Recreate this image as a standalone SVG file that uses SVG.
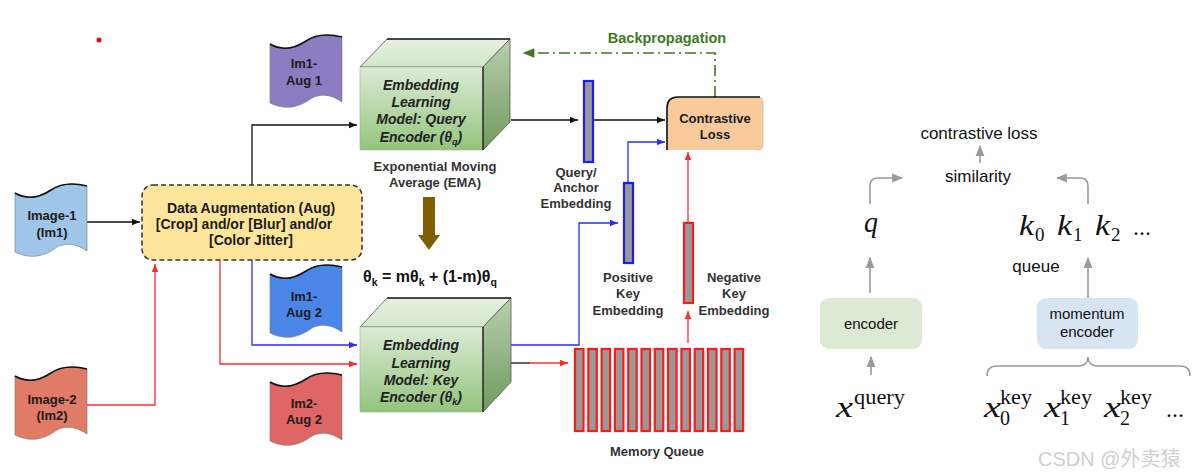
<svg xmlns="http://www.w3.org/2000/svg" xmlns:xlink="http://www.w3.org/1999/xlink" width="1200" height="475" viewBox="0 0 1200 475">
<style>
.b{font-family:"Liberation Sans",Arial,sans-serif;font-weight:bold;text-anchor:middle}
.lbl{font-size:13px;fill:#333}
.doc{font-size:13px;fill:#1a1a1a}
.enc{font-size:14px;font-style:italic;fill:#222}
.r{font-family:"Liberation Sans",Arial,sans-serif;fill:#111;text-anchor:middle}
.m{font-family:"Liberation Serif","Times New Roman",serif;fill:#111}
.mi{font-style:italic}
.blk{fill:none;stroke:#111;stroke-width:1.3}
.blu{fill:none;stroke:#2b2bff;stroke-width:1.3}
.red{fill:none;stroke:#ff2b2b;stroke-width:1.3}
.gry{fill:none;stroke:#9a9a9a;stroke-width:1.6}
.bar{fill:#999;stroke-width:2.2}
</style>
<defs>
<linearGradient id="gFront" x1="0" y1="0" x2="0" y2="1"><stop offset="0" stop-color="#dcebd5"/><stop offset="1" stop-color="#93c47d"/></linearGradient>
<linearGradient id="gSide" x1="0" y1="0" x2="0" y2="1"><stop offset="0" stop-color="#b9cfae"/><stop offset="1" stop-color="#6f9a5e"/></linearGradient>
<linearGradient id="gTop" x1="0" y1="0" x2="0" y2="1"><stop offset="0" stop-color="#e6f1e0"/><stop offset="1" stop-color="#d3e6ca"/></linearGradient>
<path id="docShape" d="M0,9 C12,16 24,14 36,6 C46,-1 60,-1 72,2 L72,67 C62,60 52,58 42,63 C30,72 16,76 0,68 Z"/>
<path id="docTop" d="M0,9 C12,16 24,14 36,6 C46,-1 60,-1 72,2" fill="none" stroke="#111" stroke-width="1.6"/>
<marker id="aBlk" viewBox="0 0 10 10" refX="10" refY="5" markerWidth="9" markerHeight="8" markerUnits="userSpaceOnUse" orient="auto"><path d="M0,1 L10,5 L0,9 z" fill="#111"/></marker>
<marker id="aBlu" viewBox="0 0 10 10" refX="10" refY="5" markerWidth="9" markerHeight="8" markerUnits="userSpaceOnUse" orient="auto"><path d="M0,1 L10,5 L0,9 z" fill="#2b2bff"/></marker>
<marker id="aRed" viewBox="0 0 10 10" refX="10" refY="5" markerWidth="9" markerHeight="8" markerUnits="userSpaceOnUse" orient="auto"><path d="M0,1 L10,5 L0,9 z" fill="#ff2b2b"/></marker>
<marker id="aGrn" viewBox="0 0 10 10" refX="2" refY="5" markerWidth="13" markerHeight="12" markerUnits="userSpaceOnUse" orient="auto"><path d="M0,1 L10,5 L0,9 z" fill="#3d7a22"/></marker>
<marker id="aGry" viewBox="0 0 10 10" refX="9" refY="5" markerWidth="11" markerHeight="11" markerUnits="userSpaceOnUse" orient="auto"><path d="M0,1 L10,5 L0,9 z" fill="#9a9a9a"/></marker>
</defs>
<rect width="1200" height="475" fill="#fff"/>
<circle cx="99" cy="40" r="2.5" fill="#f00"/>

<g id="connectors">
<path class="blk" d="M87,222 L140,222" marker-end="url(#aBlk)"/>
<path class="blk" d="M252,185 L252,125 L357,125" marker-end="url(#aBlk)"/>
<path class="red" d="M87,405 L155,405 L155,264" marker-end="url(#aRed)"/>
<path class="blu" d="M252,260 L252,345 L357,345" marker-end="url(#aBlu)"/>
<path class="red" d="M220,260 L220,364 L357,364" marker-end="url(#aRed)"/>
<path class="blk" d="M511,120 L578,120" marker-end="url(#aBlk)"/>
<path class="blk" d="M593,120 L665,120" marker-end="url(#aBlk)"/>
<path class="blu" d="M511,345 L579,345 L579,223 L618,223" marker-end="url(#aBlu)"/>
<path class="blu" d="M628,182 L628,142 L665,142" marker-end="url(#aBlu)"/>
<path class="blk" d="M511,363 L530,363"/>
<path class="red" d="M530,363 L568,363" marker-end="url(#aRed)"/>
<path class="red" d="M688,343 L688,311" marker-end="url(#aRed)"/>
<path class="red" d="M688,222 L688,152" marker-end="url(#aRed)"/>
<path d="M715,97 L715,53 L532,53" fill="none" stroke="#3d7a22" stroke-width="1.6" stroke-dasharray="11,4,2,4" marker-end="url(#aGrn)"/>
<path d="M423,197 L435,197 L435,235 L440,235 L429,250 L418,235 L423,235 Z" fill="#7f6000"/>
<path class="gry" d="M980,163 L980,146" marker-end="url(#aGry)"/>
<path class="gry" d="M870,204 L870,186 Q870,178 878,178 L902,178" marker-end="url(#aGry)"/>
<path class="gry" d="M1088,204 L1088,186 Q1088,178 1080,178 L1057,178" marker-end="url(#aGry)"/>
<path class="gry" d="M870,293 L870,258" marker-end="url(#aGry)"/>
<path class="gry" d="M1088,298 L1088,258" marker-end="url(#aGry)"/>
<path class="gry" d="M871,375 L871,357" marker-end="url(#aGry)"/>
<path d="M987,376 Q987,366 997,366 L1078,366 Q1088,366 1088,357 Q1088,366 1098,366 L1180,366 Q1190,366 1190,376" fill="none" stroke="#999" stroke-width="1.5"/>
</g>

<g id="im1-aug1">
<use xlink:href="#docShape" x="270" y="35" fill="#8e7cc3" stroke="#777" stroke-width="0.6"/>
<use xlink:href="#docTop" x="270" y="35"/>
<text class="b doc" x="304" y="68">Im1-</text>
<text class="b doc" x="304" y="85">Aug 1</text>
</g>
<g id="image1">
<use xlink:href="#docShape" x="15" y="184" fill="#9fc5e8" stroke="#777" stroke-width="0.6"/>
<use xlink:href="#docTop" x="15" y="184"/>
<text class="b doc" x="52" y="220">Image-1</text>
<text class="b doc" x="52" y="237">(Im1)</text>
</g>
<g id="im1-aug2">
<use xlink:href="#docShape" x="270" y="265" fill="#4a86e8" stroke="#777" stroke-width="0.6"/>
<use xlink:href="#docTop" x="270" y="265"/>
<text class="b doc" x="304" y="301">Im1-</text>
<text class="b doc" x="304" y="317">Aug 2</text>
</g>
<g id="image2">
<use xlink:href="#docShape" x="15" y="367" fill="#e07b67" stroke="#777" stroke-width="0.6"/>
<use xlink:href="#docTop" x="15" y="367"/>
<text class="b doc" x="52" y="404">Image-2</text>
<text class="b doc" x="52" y="420">(Im2)</text>
</g>
<g id="im2-aug2">
<use xlink:href="#docShape" x="270" y="373" fill="#e06666" stroke="#777" stroke-width="0.6"/>
<use xlink:href="#docTop" x="270" y="373"/>
<text class="b doc" x="304" y="408">Im2-</text>
<text class="b doc" x="304" y="424">Aug 2</text>
</g>

<g id="data-augmentation">
<rect x="142" y="185" width="220" height="75" rx="11" fill="#ffe599" stroke="#333" stroke-width="1.5" stroke-dasharray="5,3"/>
<text class="b" font-size="14" fill="#1a1a1a" x="251" y="213">Data Augmentation (Aug)</text>
<text class="b" font-size="14" fill="#1a1a1a" x="244" y="229">[Crop] and/or [Blur] and/or</text>
<text class="b" font-size="14" fill="#1a1a1a" x="251" y="245">[Color Jitter]</text>
</g>

<g id="query-encoder">
<polygon points="360,67 387,39 510,39 483,67" fill="url(#gTop)" stroke="#555" stroke-width="0.8"/>
<polygon points="483,67 510,39 510,122 483,150" fill="url(#gSide)" stroke="#555" stroke-width="0.8"/>
<rect x="360" y="67" width="123" height="83" fill="url(#gFront)" stroke="#9ab58d" stroke-width="0.6"/>
<path d="M387,39 L510,39 M483,67 L483,150" stroke="#222" stroke-width="1.4"/>
<text class="b enc" x="421" y="90">Embedding</text>
<text class="b enc" x="421" y="107">Learning</text>
<text class="b enc" x="421" y="124">Model: Query</text>
<text class="b enc" x="421" y="142">Encoder (θ<tspan font-size="9" dy="3">q</tspan><tspan dy="-3">)</tspan></text>
</g>
<g id="ema-label">
<text class="b lbl" x="435" y="171">Exponential Moving</text>
<text class="b lbl" x="435" y="187">Average (EMA)</text>
</g>
<g id="momentum-formula">
<text class="b" font-size="16" fill="#111" x="430" y="282">θ<tspan font-size="10.5" dy="4">k</tspan><tspan dy="-4"> = mθ</tspan><tspan font-size="10.5" dy="4">k</tspan><tspan dy="-4"> + (1-m)θ</tspan><tspan font-size="10.5" dy="4">q</tspan></text>
</g>

<g id="key-encoder">
<polygon points="360,327 387,298 511,298 483,327" fill="url(#gTop)" stroke="#555" stroke-width="0.8"/>
<polygon points="483,327 511,298 511,382 483,412" fill="url(#gSide)" stroke="#555" stroke-width="0.8"/>
<rect x="360" y="327" width="123" height="85" fill="url(#gFront)" stroke="#9ab58d" stroke-width="0.6"/>
<path d="M387,298 L511,298 M483,327 L483,412" stroke="#222" stroke-width="1.4"/>
<text class="b enc" x="421" y="350">Embedding</text>
<text class="b enc" x="421" y="368">Learning</text>
<text class="b enc" x="421" y="385">Model: Key</text>
<text class="b enc" x="421" y="402">Encoder (θ<tspan font-size="9" dy="3">k</tspan><tspan dy="-3">)</tspan></text>
</g>

<g id="query-embedding">
<rect class="bar" x="584" y="81" width="9" height="81" stroke="#1a1aff"/>
<text class="b lbl" x="576" y="177">Query/</text>
<text class="b lbl" x="576" y="192">Anchor</text>
<text class="b lbl" x="576" y="208">Embedding</text>
</g>
<g id="positive-key-embedding">
<rect class="bar" x="624" y="183" width="9" height="80" stroke="#1a1aff"/>
<text class="b lbl" x="628" y="282">Positive</text>
<text class="b lbl" x="628" y="298">Key</text>
<text class="b lbl" x="628" y="315">Embedding</text>
</g>
<g id="negative-key-embedding">
<rect class="bar" x="684" y="223" width="9" height="80" stroke="#ff1a1a"/>
<text class="b lbl" x="734" y="282">Negative</text>
<text class="b lbl" x="734" y="298">Key</text>
<text class="b lbl" x="734" y="315">Embedding</text>
</g>

<g id="contrastive-loss">
<path d="M667,150 L667,108 Q667,97 678,97 L759,97 Q763,97 763,101 L763,145 Q763,150 758,150 Z" fill="#f9cb9c"/>
<path d="M667,150 L667,108 Q667,97 678,97 L760,97" fill="none" stroke="#111" stroke-width="1.6"/>
<path d="M763,101 L763,145 Q763,150 758,150" fill="none" stroke="#bbb" stroke-width="0.8"/>
<text class="b" font-size="13" fill="#1a1a1a" x="715" y="123">Contrastive</text>
<text class="b" font-size="13" fill="#1a1a1a" x="715" y="139">Loss</text>
</g>
<g id="backpropagation-label">
<text class="b" font-size="14.5" fill="#3d7a22" x="667" y="43">Backpropagation</text>
</g>

<g id="memory-queue">
<rect class="bar" x="575" y="349" width="8.5" height="82" stroke="#ff1a1a"/>
<rect class="bar" x="588.3" y="349" width="8.5" height="82" stroke="#ff1a1a"/>
<rect class="bar" x="601.6" y="349" width="8.5" height="82" stroke="#ff1a1a"/>
<rect class="bar" x="614.9" y="349" width="8.5" height="82" stroke="#ff1a1a"/>
<rect class="bar" x="628.2" y="349" width="8.5" height="82" stroke="#ff1a1a"/>
<rect class="bar" x="641.5" y="349" width="8.5" height="82" stroke="#ff1a1a"/>
<rect class="bar" x="654.8" y="349" width="8.5" height="82" stroke="#ff1a1a"/>
<rect class="bar" x="668.1" y="349" width="8.5" height="82" stroke="#ff1a1a"/>
<rect class="bar" x="681.4" y="349" width="8.5" height="82" stroke="#ff1a1a"/>
<rect class="bar" x="694.7" y="349" width="8.5" height="82" stroke="#ff1a1a"/>
<rect class="bar" x="708" y="349" width="8.5" height="82" stroke="#ff1a1a"/>
<rect class="bar" x="721.3" y="349" width="8.5" height="82" stroke="#ff1a1a"/>
<rect class="bar" x="734.6" y="349" width="8.5" height="82" stroke="#ff1a1a"/>
<text class="b lbl" fill="#222" x="657" y="456">Memory Queue</text>
</g>

<g id="moco-right">
<text class="r" font-size="17" x="979" y="139">contrastive loss</text>
<text class="r" font-size="17" x="978" y="182">similarity</text>
<text class="m mi" font-size="29" x="864" y="232" textLength="14" lengthAdjust="spacingAndGlyphs">q</text>
<g id="keys">
<text class="m mi" font-size="29" x="1019" y="235" textLength="15" lengthAdjust="spacingAndGlyphs">k</text><text class="m" font-size="19" x="1035" y="241">0</text>
<text class="m mi" font-size="29" x="1057" y="235" textLength="15" lengthAdjust="spacingAndGlyphs">k</text><text class="m" font-size="19" x="1073" y="241">1</text>
<text class="m mi" font-size="29" x="1095" y="235" textLength="15" lengthAdjust="spacingAndGlyphs">k</text><text class="m" font-size="19" x="1111" y="241">2</text>
<text class="m" font-size="24" x="1133" y="235">...</text>
</g>
<text class="r" font-size="17" x="1036" y="272">queue</text>
<g id="encoder">
<rect x="820" y="298" width="102" height="51" rx="9" fill="#dce9d3"/>
<text class="r" font-size="15" x="871" y="329">encoder</text>
</g>
<g id="momentum-encoder">
<rect x="1037" y="298" width="101" height="51" rx="9" fill="#d6e5f1"/>
<text class="r" font-size="15" x="1087" y="319">momentum</text>
<text class="r" font-size="15" x="1087" y="337">encoder</text>
</g>
<text class="m mi" font-size="30" x="836" y="417" textLength="17" lengthAdjust="spacingAndGlyphs">x</text><text class="m" font-size="21" x="854" y="404" textLength="51" lengthAdjust="spacingAndGlyphs">query</text>
<text class="m mi" font-size="30" x="984" y="417" textLength="17" lengthAdjust="spacingAndGlyphs">x</text><text class="m" font-size="21" x="1000" y="404" textLength="32" lengthAdjust="spacingAndGlyphs">key</text><text class="m" font-size="20" x="1000" y="425">0</text>
<text class="m mi" font-size="30" x="1044" y="417" textLength="17" lengthAdjust="spacingAndGlyphs">x</text><text class="m" font-size="21" x="1060" y="404" textLength="32" lengthAdjust="spacingAndGlyphs">key</text><text class="m" font-size="20" x="1060" y="425">1</text>
<text class="m mi" font-size="30" x="1104" y="417" textLength="17" lengthAdjust="spacingAndGlyphs">x</text><text class="m" font-size="21" x="1120" y="404" textLength="32" lengthAdjust="spacingAndGlyphs">key</text><text class="m" font-size="20" x="1120" y="425">2</text>
<text class="m" font-size="24" x="1166" y="417">...</text>
</g>
<text x="1038" y="466" font-family="Liberation Sans,'Noto Sans CJK SC',sans-serif" font-size="20" fill="#cfcfcf">CSDN @外卖猿</text>
</svg>
